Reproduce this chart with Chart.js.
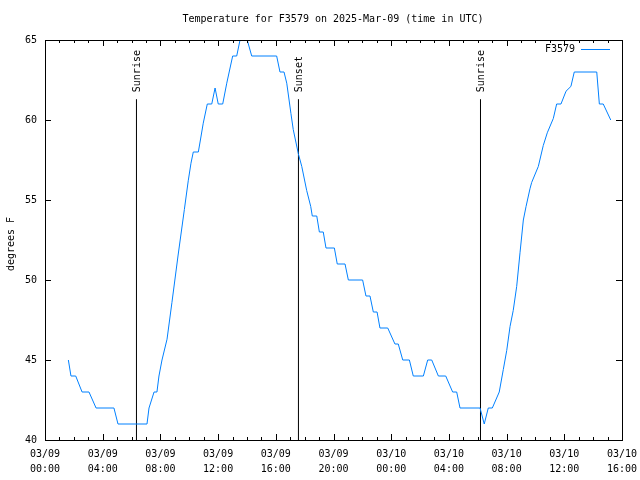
<!DOCTYPE html>
<html>
<head>
<meta charset="utf-8">
<script src="https://cdn.jsdelivr.net/npm/chart.js@4/dist/chart.umd.min.js"></script>
<style>
  html, body { margin: 0; padding: 0; background: #fff; }
  canvas { display: block; }
</style>
</head>
<body>
<canvas id="chart" width="640" height="480"></canvas>
<script>
// hours since 03/09 00:00 UTC
const tempHours = [
  1.62, 1.80, 2.13, 2.57, 3.05, 3.54, 4.78, 5.06, 7.07, 7.21, 7.56, 7.76, 7.90, 8.11, 8.46,
  8.80, 9.22, 9.66, 9.93, 10.12, 10.28, 10.63, 10.82, 10.97, 11.25, 11.56, 11.79, 12.01,
  12.32, 12.60, 13.01, 13.29, 13.52, 14.02, 14.33, 16.06, 16.29, 16.57, 16.76, 17.05, 17.21,
  17.56, 17.80, 18.14, 18.42, 18.53, 18.84, 19.02, 19.29, 19.48, 20.06, 20.26, 20.80, 21.03,
  22.02, 22.25, 22.53, 22.76, 23.02, 23.22, 23.76, 24.26, 24.49, 24.80, 25.26, 25.53, 26.23,
  26.53, 26.81, 27.27, 27.78, 28.26, 28.54, 28.77, 30.16, 30.45, 30.73, 31.01, 31.49, 31.77,
  32.01, 32.24, 32.46, 32.70, 32.93, 33.16, 33.35, 33.62, 33.74, 34.20, 34.54, 34.82, 35.24,
  35.47, 35.77, 36.12, 36.46, 36.69, 38.25, 38.43, 38.70, 39.22
];
const tempValues = [
  45, 44, 44, 43, 43, 42, 42, 41, 41, 42, 43, 43, 44, 45, 46.3,
  48.6, 51.5, 54.4, 56.2, 57.3, 58, 58, 59, 59.8, 61, 61, 62, 61,
  61, 62.3, 64, 64, 65, 65, 64, 64, 63, 63, 62.3, 60.4, 59.4,
  57.9, 57.1, 55.6, 54.6, 54, 54, 53, 53, 52, 52, 51, 51, 50,
  50, 49, 49, 48, 48, 47, 47, 46, 46, 45, 45, 44, 44,
  45, 45, 44, 44, 43, 43, 42, 42, 41, 42, 42, 43, 44.4,
  45.6, 47.1, 48.1, 49.6, 51.7, 53.75, 54.6, 55.7, 56.1, 57.1, 58.4, 59.2, 60.1,
  61, 61, 61.8, 62.1, 63, 63, 61, 61, 60
];

const xTickHours = [0, 4, 8, 12, 16, 20, 24, 28, 32, 36, 40];
const xTickLabels = [
  ['03/09', '00:00'], ['03/09', '04:00'], ['03/09', '08:00'], ['03/09', '12:00'],
  ['03/09', '16:00'], ['03/09', '20:00'], ['03/10', '00:00'], ['03/10', '04:00'],
  ['03/10', '08:00'], ['03/10', '12:00'], ['03/10', '16:00']
];
const yTickValues = [40, 45, 50, 55, 60, 65];

const sunEventHours = [6.34, 17.57, 30.19];
const sunEventLabels = ['Sunrise', 'Sunset', 'Sunrise'];
const sunLineTop = 61.3;

const seriesName = 'F3579';
const titleText = 'Temperature for F3579 on 2025-Mar-09 (time in UTC)';
const yTitle = 'degrees F';

const FONT = '10px "DejaVu Sans Mono", "Liberation Mono", monospace';
const LINE_COLOR = '#0080ff';

Chart.defaults.font.family = '"DejaVu Sans Mono", "Liberation Mono", monospace';
Chart.defaults.font.size = 10;
Chart.defaults.color = '#000';

const tempPoints = tempHours.map((h, i) => ({ x: h, y: tempValues[i] }));

const sunDatasets = sunEventHours.map(h => ({
  data: [{ x: h, y: 40 }, { x: h, y: sunLineTop }],
  borderColor: '#000',
  borderWidth: 1,
  pointRadius: 0,
  tension: 0
}));

// frame, inward ticks, sun labels, title, legend and y title (gnuplot look)
const gnuplotDecor = {
  id: 'gnuplotDecor',
  afterDraw(chart) {
    const ctx = chart.ctx;
    const a = chart.chartArea;
    const xs = chart.scales.x, ys = chart.scales.y;
    ctx.save();
    ctx.strokeStyle = '#000';
    ctx.lineWidth = 1;
    ctx.strokeRect(Math.round(a.left) + 0.5, Math.round(a.top) + 0.5,
      Math.round(a.right - a.left), Math.round(a.bottom - a.top));

    ctx.beginPath();
    for (let h = 0; h <= 40; h++) {
      const x = Math.round(xs.getPixelForValue(h)) + 0.5;
      const len = h % 4 === 0 ? 6 : 3;
      ctx.moveTo(x, a.bottom); ctx.lineTo(x, a.bottom - len);
      ctx.moveTo(x, a.top); ctx.lineTo(x, a.top + len);
    }
    yTickValues.forEach(v => {
      const y = Math.round(ys.getPixelForValue(v)) + 0.5;
      ctx.moveTo(a.left, y); ctx.lineTo(a.left + 6, y);
      ctx.moveTo(a.right, y); ctx.lineTo(a.right - 6, y);
    });
    ctx.stroke();

    ctx.fillStyle = '#000';
    ctx.font = FONT;

    // sunrise / sunset labels
    sunEventHours.forEach((h, i) => {
      const x = xs.getPixelForValue(h);
      const y = ys.getPixelForValue(sunLineTop) - 7;
      ctx.save();
      ctx.translate(x + 1, y);
      ctx.rotate(-Math.PI / 2);
      ctx.textAlign = 'left';
      ctx.textBaseline = 'middle';
      ctx.fillText(sunEventLabels[i], 0, 0);
      ctx.restore();
    });

    // title
    ctx.textAlign = 'center';
    ctx.textBaseline = 'middle';
    ctx.fillText(titleText, 333, 19);

    // legend
    ctx.textAlign = 'right';
    ctx.fillText(seriesName, 575, 49);
    ctx.strokeStyle = LINE_COLOR;
    ctx.beginPath();
    ctx.moveTo(581, 49.5); ctx.lineTo(610, 49.5);
    ctx.stroke();

    // y title
    ctx.save();
    ctx.translate(11, 244);
    ctx.rotate(-Math.PI / 2);
    ctx.textAlign = 'center';
    ctx.fillText(yTitle, 0, 0);
    ctx.restore();

    ctx.restore();
  }
};

new Chart(document.getElementById('chart'), {
  type: 'line',
  data: {
    datasets: [
      {
        label: seriesName,
        data: tempPoints,
        borderColor: LINE_COLOR,
        borderWidth: 1,
        pointRadius: 0,
        tension: 0
      },
      ...sunDatasets
    ]
  },
  options: {
    responsive: false,
    animation: false,
    layout: { padding: { top: 40, right: 18, left: 0, bottom: 0 } },
    plugins: { legend: { display: false }, title: { display: false }, tooltip: { enabled: false } },
    scales: {
      x: {
        type: 'linear',
        min: 0,
        max: 40,
        afterBuildTicks: scale => { scale.ticks = xTickHours.map(v => ({ value: v })); },
        afterFit: scale => {
          scale.height = 40;
          scale.paddingLeft = 0;
          scale.paddingRight = 0;
        },
        grid: { display: false, drawTicks: false },
        border: { display: false },
        ticks: {
          padding: 7,
          maxRotation: 0,
          autoSkip: false,
          font: { size: 10, lineHeight: 1.5 },
          callback: (v, i) => xTickLabels[i]
        }
      },
      y: {
        min: 40,
        max: 65,
        afterBuildTicks: scale => { scale.ticks = yTickValues.map(v => ({ value: v })); },
        afterFit: scale => {
          scale.width = 45;
          scale.paddingTop = 0;
          scale.paddingBottom = 0;
        },
        grid: { display: false, drawTicks: false },
        border: { display: false },
        ticks: { padding: 8 }
      }
    }
  },
  plugins: [gnuplotDecor]
});
</script>
</body>
</html>
